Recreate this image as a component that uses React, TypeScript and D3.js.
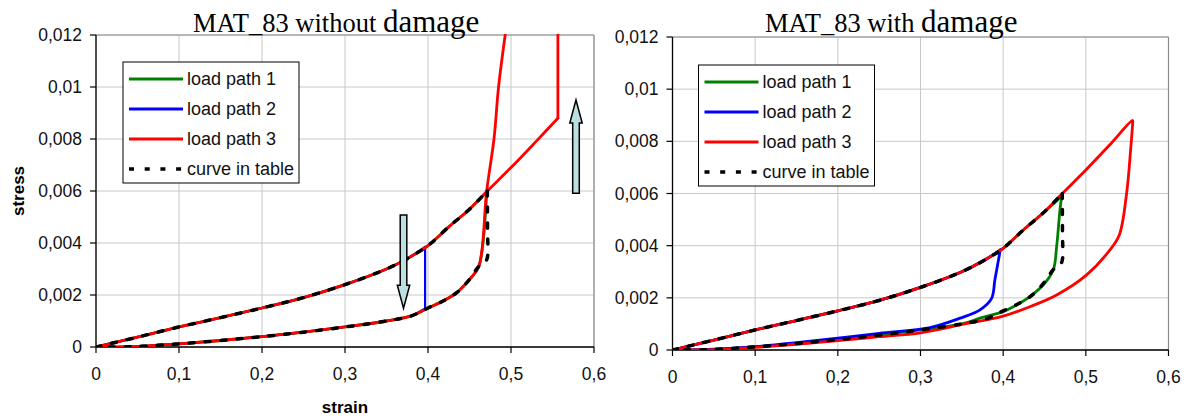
import React from "react";
import * as d3 from "d3";

type Pt = [number, number];

const strainTicks = [0, 0.1, 0.2, 0.3, 0.4, 0.5, 0.6];
const stressTicks = [0, 0.002, 0.004, 0.006, 0.008, 0.01, 0.012];
const fmt = (v: number) => String(+v.toFixed(3)).replace(".", ",");

// loading branch of the table curve (strain, stress)
const tableLoading: Pt[] = [
  [0, 0], [0.05, 0.00038], [0.1, 0.00077], [0.15, 0.00113], [0.2, 0.0015],
  [0.25, 0.0019], [0.3, 0.0024], [0.35, 0.003], [0.375, 0.0034], [0.4, 0.0039],
  [0.425, 0.00462], [0.45, 0.0053], [0.4715, 0.006],
];
// loading beyond the last table point
const loadingExtension: Pt[] = [[0.5, 0.0069], [0.53, 0.0079], [0.5565, 0.0088]];
// top of the unloading branch of the table
const tableUnloadTop: Pt[] = [[0.4715, 0.006], [0.4717, 0.0045], [0.4712, 0.0034], [0.467, 0.0032]];
// lower part of the unloading branch
const lowerBranch: Pt[] = [
  [0.4612, 0.0031], [0.45, 0.0026], [0.435, 0.0021], [0.42, 0.0018], [0.4, 0.0015],
  [0.38, 0.0012], [0.35, 0.001], [0.3, 0.00077], [0.25, 0.00057], [0.2, 0.0004],
  [0.15, 0.00025], [0.1, 0.00012], [0.05, 0.00002], [0.03, 0], [0, 0],
];

// MAT_83 without damage
const noDmgPath1Unload: Pt[] = [[0.4707, 0.006], [0.4612, 0.0031]];
const noDmgPath2Drop: Pt[] = [[0.3965, 0.00385], [0.3965, 0.00148]];
const noDmgPath3Reload: Pt[] = [
  [0.5565, 0.0125], [0.4945, 0.0125], [0.493, 0.012], [0.485, 0.01],
  [0.4795, 0.008], [0.4707, 0.006], [0.4612, 0.0031],
];

// MAT_83 with damage
const dmgPath1Unload: Pt[] = [
  [0.4708, 0.0059], [0.4687, 0.00537], [0.4647, 0.00397], [0.4606, 0.00307],
  [0.4486, 0.0025], [0.4324, 0.00205], [0.4123, 0.00166], [0.4, 0.00147], [0.372, 0.00122],
];
const dmgPath2Unload: Pt[] = [
  [0.3965, 0.00384], [0.39, 0.00269], [0.386, 0.00198], [0.372, 0.00154], [0.348, 0.00122],
  [0.3115, 0.00086], [0.25, 0.00064], [0.2, 0.00045], [0.15, 0.00028], [0.1, 0.00013],
  [0.05, 0.00003], [0.02, 0], [0, 0],
];
const dmgPath3Unload: Pt[] = [
  [0.5567, 0.0087], [0.5542, 0.00768], [0.5494, 0.00602], [0.5405, 0.00441],
  [0.5292, 0.00384], [0.501, 0.00288], [0.4647, 0.00211], [0.4324, 0.00166],
  [0.4, 0.0013], [0.352, 0.00099], [0.3, 0.00066], [0.25, 0.00051], [0.2, 0.00036],
  [0.15, 0.00022], [0.1, 0.0001], [0.05, 0.00001], [0.02, 0], [0, 0],
];

// arrows: strain position, stress start, stress end
const noDmgArrows: [number, number, number][] = [
  [0.3705, 0.00508, 0.00149],
  [0.5783, 0.00591, 0.0095],
];

const below = (pts: Pt[], s: number) => pts.filter((p) => p[0] < s);

const seriesNames = ["load path 1", "load path 2", "load path 3", "curve in table"];
const seriesColors = ["#008000", "#0000ff", "#ff0000", "#000000"];

const tableCurve: Pt[][] = [tableLoading, [...tableUnloadTop, ...lowerBranch]];

// each series is drawn as a few smooth pieces, split at its sharp corners
const noDamageSeries: Pt[][][] = [
  [tableLoading, [...noDmgPath1Unload, ...lowerBranch.slice(1)]],
  [
    below(tableLoading, 0.3965).concat([noDmgPath2Drop[0]]),
    noDmgPath2Drop,
    [noDmgPath2Drop[1], ...below(lowerBranch, 0.3965)],
  ],
  [
    [...tableLoading, ...loadingExtension],
    [loadingExtension[2], noDmgPath3Reload[0]],
    noDmgPath3Reload.slice(0, 2),
    [...noDmgPath3Reload.slice(2), ...lowerBranch.slice(1)],
  ],
  tableCurve,
];

const damageSeries: Pt[][][] = [
  [[...below(tableLoading, 0.4708), dmgPath1Unload[0]], [...dmgPath1Unload, ...below(lowerBranch, 0.372)]],
  [[...below(tableLoading, 0.3965), dmgPath2Unload[0]], dmgPath2Unload],
  [[...tableLoading, ...loadingExtension, dmgPath3Unload[0]], dmgPath3Unload],
  tableCurve,
];

type PanelSpec = {
  id: string;
  left: number;
  right: number;
  top: number;
  bottom: number;
  titleA: string;
  titleB: string;
  titleX: number;
  series: Pt[][][];
  arrows: [number, number, number][];
  axisTitles: boolean;
  legendDx: number;
  legendDy: number;
};

const panels: PanelSpec[] = [
  {
    id: "nodmg", left: 96, right: 594, top: 35, bottom: 347,
    titleA: "MAT_83 without ", titleB: "damage", titleX: 193,
    series: noDamageSeries, arrows: noDmgArrows, axisTitles: true, legendDx: 27, legendDy: 27,
  },
  {
    id: "dmg", left: 672.5, right: 1168.5, top: 37, bottom: 350,
    titleA: "MAT_83 with ", titleB: "damage", titleX: 765,
    series: damageSeries, arrows: [], axisTitles: false, legendDx: 26, legendDy: 28,
  },
];

const SANS = "'Liberation Sans', Arial, sans-serif";
const SERIF = "'Liberation Serif', 'Times New Roman', serif";

function Panel({ p }: { p: PanelSpec }) {
  const x = d3.scaleLinear().domain([0, 0.6]).range([p.left, p.right]);
  const y = d3.scaleLinear().domain([0, 0.012]).range([p.bottom, p.top]);
  const line = d3
    .line<Pt>()
    .x((d) => x(d[0]))
    .y((d) => y(d[1]))
    .curve(d3.curveCatmullRom.alpha(0.5));
  const clipId = `clip-${p.id}`;
  const lx = p.left + p.legendDx;
  const ly = p.top + p.legendDy;

  return (
    <g>
      <defs>
        <clipPath id={clipId}>
          <rect x={p.left} y={p.top - 1} width={p.right - p.left + 1} height={p.bottom - p.top + 1} />
        </clipPath>
      </defs>
      {strainTicks.map((t) => (
        <line key={"gx" + t} x1={x(t)} x2={x(t)} y1={p.top} y2={p.bottom} stroke="#c8c8c8" strokeWidth={1} />
      ))}
      {stressTicks.map((t) => (
        <line key={"gy" + t} x1={p.left} x2={p.right} y1={y(t)} y2={y(t)} stroke="#c8c8c8" strokeWidth={1} />
      ))}
      <line x1={p.left} x2={p.right} y1={p.top} y2={p.top} stroke="#8a8a8a" strokeWidth={1.2} />
      <line x1={p.right} x2={p.right} y1={p.top} y2={p.bottom} stroke="#8a8a8a" strokeWidth={1.2} />
      <line x1={p.left} x2={p.left} y1={p.top} y2={p.bottom} stroke="#000" strokeWidth={1.3} />
      <line x1={p.left} x2={p.right} y1={p.bottom} y2={p.bottom} stroke="#000" strokeWidth={1.3} />
      {strainTicks.map((t) => (
        <g key={"tx" + t}>
          <line x1={x(t)} x2={x(t)} y1={p.bottom} y2={p.bottom + 6} stroke="#000" strokeWidth={1.2} />
          <text x={x(t)} y={p.bottom + 33} textAnchor="middle" fontFamily={SANS} fontSize={17.5} fill="#111">
            {fmt(t)}
          </text>
        </g>
      ))}
      {stressTicks.map((t) => (
        <g key={"ty" + t}>
          <line x1={p.left - 6} x2={p.left} y1={y(t)} y2={y(t)} stroke="#000" strokeWidth={1.2} />
          <text x={p.left - 14} y={y(t) + 6} textAnchor="end" fontFamily={SANS} fontSize={17.5} fill="#111">
            {fmt(t)}
          </text>
        </g>
      ))}
      <g clipPath={`url(#${clipId})`}>
        {p.series.map((parts, i) =>
          parts.map((pts, j) => (
            <path
              key={`s${i}-${j}`}
              d={line(pts) || ""}
              fill="none"
              stroke={seriesColors[i]}
              strokeWidth={i === 3 ? 3.5 : i === 1 && p.id === "nodmg" ? 2.2 : 2.8}
              strokeDasharray={i === 3 ? "5 11" : undefined}
              strokeLinejoin="round"
              strokeLinecap="round"
            />
          ))
        )}
      </g>
      {p.arrows.map(([s, a, b], k) => {
        const cx = x(s);
        const y0 = y(a);
        const y1 = y(b);
        const dir = y1 > y0 ? 1 : -1;
        const hw = 3.3;
        const hh = 6.2;
        const hl = 23;
        const yb = y1 - dir * hl;
        const pts = [
          [cx - hw, y0], [cx + hw, y0], [cx + hw, yb], [cx + hh, yb],
          [cx, y1], [cx - hh, yb], [cx - hw, yb],
        ];
        return (
          <polygon
            key={"ar" + k}
            points={pts.map((q) => q.join(",")).join(" ")}
            fill="#bcdfe2"
            stroke="#000"
            strokeWidth={1.5}
            strokeLinejoin="miter"
          />
        );
      })}
      <rect x={lx} y={ly} width={176} height={121} fill="#fff" stroke="#000" strokeWidth={1} />
      {seriesNames.map((name, i) => {
        const ry = ly + 17 + i * 30;
        return (
          <g key={"lg" + i}>
            <line
              x1={lx + 6}
              x2={lx + 60}
              y1={ry}
              y2={ry}
              stroke={seriesColors[i]}
              strokeWidth={i === 3 ? 3.5 : 3}
              strokeDasharray={i === 3 ? "5 10.7" : undefined}
            />
            <text x={lx + 64} y={ry + 6} fontFamily={SANS} fontSize={18} fill="#111">
              {name}
            </text>
          </g>
        );
      })}
      <text x={p.titleX} y={31.7} fontFamily={SERIF} fill="#000">
        <tspan fontSize={26.5}>{p.titleA}</tspan>
        <tspan fontSize={31}>{p.titleB}</tspan>
      </text>
      {p.axisTitles && (
        <>
          <text
            transform={`translate(23.5,${(p.top + p.bottom) / 2}) rotate(-90)`}
            textAnchor="middle"
            fontFamily={SANS}
            fontWeight="bold"
            fontSize={17}
            fill="#000"
          >
            stress
          </text>
          <text
            x={(p.left + p.right) / 2}
            y={413}
            textAnchor="middle"
            fontFamily={SANS}
            fontWeight="bold"
            fontSize={17}
            fill="#000"
          >
            strain
          </text>
        </>
      )}
    </g>
  );
}

export default function App() {
  return (
    <div style={{ position: "absolute", left: 0, top: 0 }}>
      <svg width={1189} height={419} viewBox="0 0 1189 419" style={{ display: "block", background: "#fff" }}>
        <rect x={0} y={0} width={1189} height={419} fill="#fff" />
        {panels.map((p) => (
          <Panel key={p.id} p={p} />
        ))}
      </svg>
    </div>
  );
}
